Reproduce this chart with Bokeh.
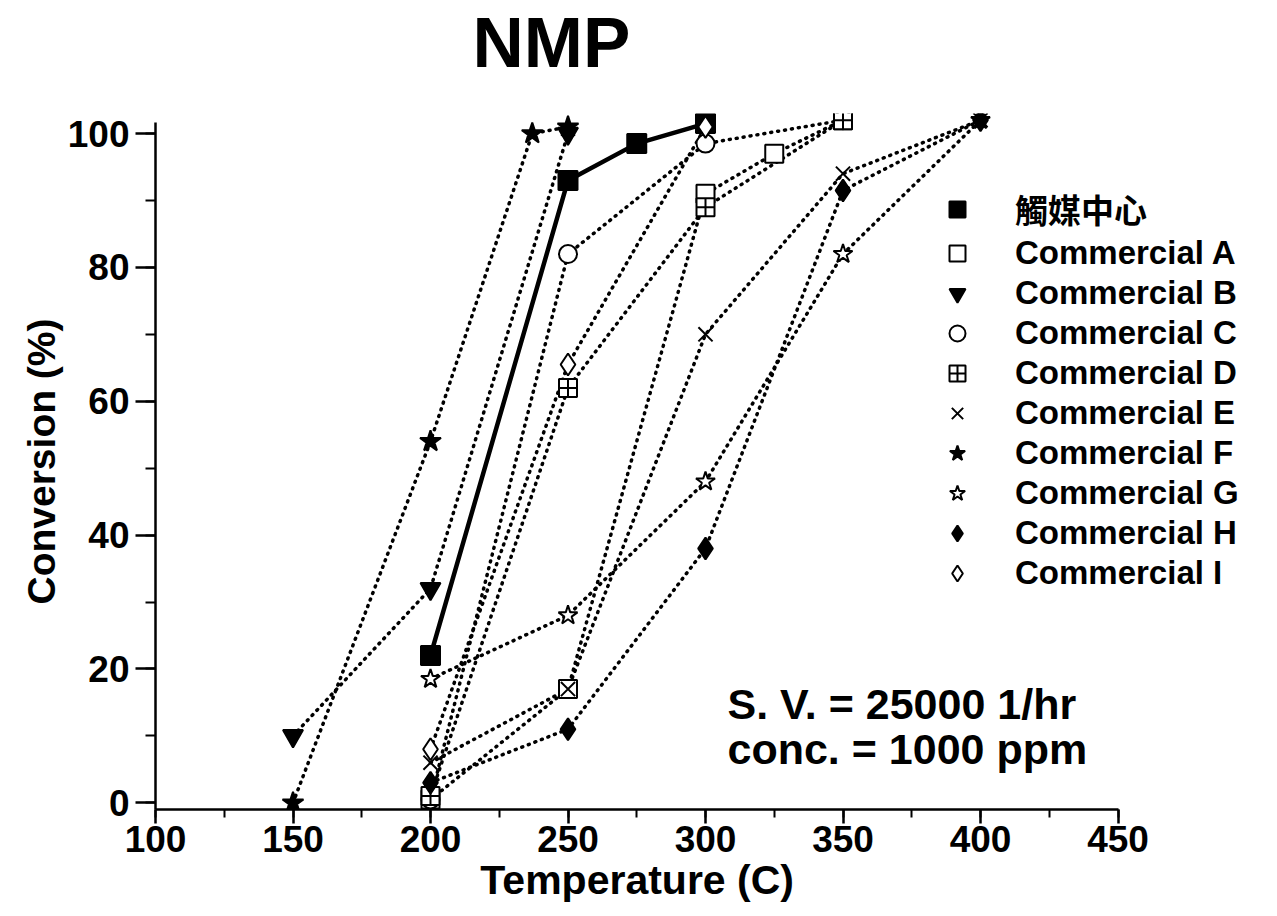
from bokeh.plotting import figure
from bokeh.models import Range1d, SingleIntervalTicker, Legend, LegendItem, Label, Title
from bokeh.embed import file_html
from bokeh.resources import INLINE

# ---------------- data ----------------
series_names = ["觸媒中心", "Commercial A", "Commercial B", "Commercial C", "Commercial D",
                "Commercial E", "Commercial F", "Commercial G", "Commercial H", "Commercial I"]

temp_center = [200, 250, 275, 300]
conv_center = [22, 93, 98.5, 101.5]

temp_A = [200, 250, 300, 325, 350]
conv_A = [0.5, 17, 91, 97, 102]

temp_B = [150, 200, 250]
conv_B = [10, 32, 100]

temp_C = [200, 250, 300, 350]
conv_C = [0.5, 82, 98.5, 102]

temp_D = [200, 250, 300, 350]
conv_D = [1, 62, 89, 102]

temp_E = [200, 250, 300, 350, 400]
conv_E = [6, 17, 70, 94, 102]

temp_F = [150, 200, 237, 250]
conv_F = [0, 54, 100, 101]

temp_G = [200, 250, 300, 350, 400]
conv_G = [18.5, 28, 48, 82, 102]

temp_H = [200, 250, 300, 350, 400]
conv_H = [3, 11, 38, 91.5, 102]

temp_I = [200, 250, 300]
conv_I = [8, 65.5, 101]

x_axis_bounds = (100, 450)
y_axis_bounds = (-1, 101.6)
x_ticks_interval = 50
y_ticks_interval = 20

FONT = "Liberation Sans"
LEG_FONT = "Liberation Sans, Noto Sans CJK TC"

# ---------------- figure ----------------
p = figure(width=1277, height=916, output_backend="svg", toolbar_location=None,
           x_range=Range1d(100, 500), y_range=Range1d(-1, 103),
           min_border_left=155, min_border_right=22, min_border_top=113, min_border_bottom=107,
           background_fill_color="white", border_fill_color="white")
p.outline_line_color = None
p.grid.visible = False
p.title.text = ""

# spacer (closest to the frame) then the main title above it
p.add_layout(Title(text="\u00a0", text_font=FONT, text_font_size="27px", standoff=0), "above")
p.add_layout(Title(text="NMP", align="left", offset=317, text_font=FONT,
                   text_font_size="71px", text_font_style="bold", text_color="black",
                   standoff=0), "above")

p.xaxis.ticker = SingleIntervalTicker(interval=x_ticks_interval, num_minor_ticks=2)
p.yaxis.ticker = SingleIntervalTicker(interval=y_ticks_interval, num_minor_ticks=2)
p.xaxis.bounds = x_axis_bounds
p.yaxis.bounds = y_axis_bounds
# the frame is wider than the axis (room for the legend); pad so the label centres on the axis
p.xaxis.axis_label = "Temperature (C)" + "\u00a0" * 12
p.yaxis.axis_label = "Conversion (%)"
for ax in (p.xaxis, p.yaxis):
    ax.axis_line_width = 2.5
    ax.axis_line_color = "black"
    ax.major_tick_line_width = 2.5
    ax.major_tick_line_color = "black"
    ax.minor_tick_line_width = 2
    ax.minor_tick_line_color = "black"
    ax.major_tick_in = 0
    ax.minor_tick_in = 0
    ax.major_label_text_font = FONT
    ax.major_label_text_font_style = "bold"
    ax.major_label_text_font_size = "37px"
    ax.major_label_text_color = "black"
    ax.axis_label_text_font = FONT
    ax.axis_label_text_font_style = "bold"
    ax.axis_label_text_color = "black"
    ax.axis_label_standoff = 2
p.yaxis.major_tick_out = 20
p.yaxis.minor_tick_out = 10
p.yaxis.major_label_standoff = 6
p.xaxis.major_tick_out = 14
p.xaxis.minor_tick_out = 8
p.xaxis.major_label_standoff = 2
p.xaxis.axis_label_text_font_size = "41px"
p.yaxis.axis_label_text_font_size = "39px"

DOT = dict(line_dash="1 6", line_width=3.5, line_cap="round", line_color="black")

series = [
    (temp_center, conv_center, "square", "black", 19, "solid"),
    (temp_A, conv_A, "square", "white", 18, "dot"),
    (temp_B, conv_B, "inverted_triangle", "black", 20, "dot"),
    (temp_C, conv_C, "circle", "white", 18, "dot"),
    (temp_D, conv_D, "square_cross", "white", 18, "dot"),
    (temp_E, conv_E, "x", "white", 20, "dot"),
    (temp_F, conv_F, "star", "black", 22, "dot"),
    (temp_G, conv_G, "star", "white", 20, "dot"),
    (temp_H, conv_H, "diamond", "black", 22, "dot"),
    (temp_I, conv_I, "diamond", "white", 22, "dot"),
]

scatter_renderers = []
for xs, ys, mk, fill, sz, style in series:
    if style == "solid":
        p.line(xs, ys, line_width=4.5, line_color="black")
    else:
        p.line(xs, ys, **DOT)

for xs, ys, mk, fill, sz, style in series:
    r = p.scatter(xs, ys, marker=mk, size=sz, fill_color=fill, line_color="black", line_width=2)
    scatter_renderers.append(r)

items = [LegendItem(label=n, renderers=[r]) for n, r in zip(series_names, scatter_renderers)]
legend = Legend(items=items, location=(780, 216), glyph_width=44, glyph_height=40,
                label_height=40, spacing=0, padding=0, margin=0, label_standoff=36,
                border_line_color=None, background_fill_alpha=0,
                label_text_font=LEG_FONT, label_text_font_size="33px",
                label_text_font_style="bold", label_text_color="black")
p.add_layout(legend)

p.add_layout(Label(x=308, y=14.8, text="S. V. = 25000 1/hr", text_font=FONT,
                   text_font_size="43px", text_font_style="bold", text_baseline="middle",
                   text_color="black"))
p.add_layout(Label(x=308, y=8.0, text="conc. = 1000 ppm", text_font=FONT,
                   text_font_size="43px", text_font_style="bold", text_baseline="middle",
                   text_color="black"))

open("out.html", "w").write(file_html(p, INLINE))
